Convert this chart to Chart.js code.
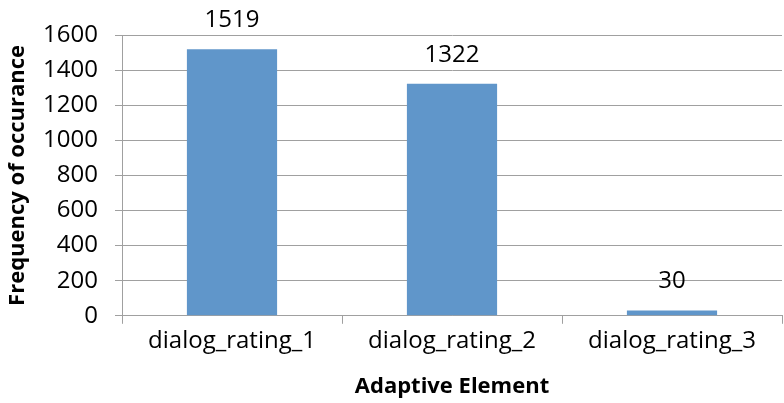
<!DOCTYPE html>
<html>
<head>
<meta charset="utf-8">
<script src="https://cdn.jsdelivr.net/npm/chart.js@4"></script>
<style>
  html, body { margin: 0; padding: 0; background: #fff; }
  #wrap { width: 784px; height: 403px; }
</style>
</head>
<body>
<div id="wrap"><canvas id="chart"></canvas></div>
<script>
const categories = ['dialog_rating_1', 'dialog_rating_2', 'dialog_rating_3'];
const frequency = [1519, 1322, 30];
const yTicks = [0, 200, 400, 600, 800, 1000, 1200, 1400, 1600];

const FONT = "'Open Sans', 'Liberation Sans', sans-serif";
const GRID = '#a0a0a0';

// draws the value above each bar
const valueLabels = {
    id: 'valueLabels',
    afterDatasetsDraw(chart) {
        const ctx = chart.ctx;
        const meta = chart.getDatasetMeta(0);
        ctx.save();
        ctx.font = '24px ' + FONT;
        ctx.fillStyle = '#000';
        ctx.textAlign = 'center';
        ctx.textBaseline = 'middle';
        meta.data.forEach((bar, i) => {
            ctx.fillText(frequency[i], bar.x, bar.y - 29);
        });
        ctx.restore();
    }
};

new Chart(document.getElementById('chart'), {
    type: 'bar',
    data: {
        labels: categories,
        datasets: [{
            data: frequency,
            backgroundColor: '#6096ca',
            borderWidth: 0,
            categoryPercentage: 1,
            barPercentage: 0.41
        }]
    },
    options: {
        responsive: true,
        maintainAspectRatio: false,
        animation: false,
        layout: { padding: { top: 35, right: 2, left: 5, bottom: 3 } },
        plugins: { legend: { display: false }, tooltip: { enabled: false } },
        scales: {
            x: {
                grid: { drawOnChartArea: false, drawTicks: true, tickLength: 8, color: GRID, offset: true },
                border: { color: GRID, width: 1 },
                ticks: { color: '#000', font: { family: FONT, size: 24 }, padding: 3, maxRotation: 0 },
                title: { display: true, text: 'Adaptive Element', color: '#000', font: { family: FONT, size: 22, weight: 'bold' }, padding: { top: 15, bottom: 0 } }
            },
            y: {
                min: 0,
                max: yTicks[yTicks.length - 1],
                afterBuildTicks(axis) { axis.ticks = yTicks.map(v => ({ value: v })); },
                afterFit(axis) { axis.width = 117; },
                grid: { color: GRID, tickLength: 7, lineWidth: 1 },
                border: { color: GRID, width: 1 },
                ticks: { color: '#000', font: { family: FONT, size: 24 }, padding: 17, callback: v => String(v) },
                title: { display: true, text: 'Frequency of occurance', color: '#000', font: { family: FONT, size: 22, weight: 'bold' }, padding: { top: 0, bottom: 10 } }
            }
        }
    },
    plugins: [valueLabels]
});
</script>
</body>
</html>
